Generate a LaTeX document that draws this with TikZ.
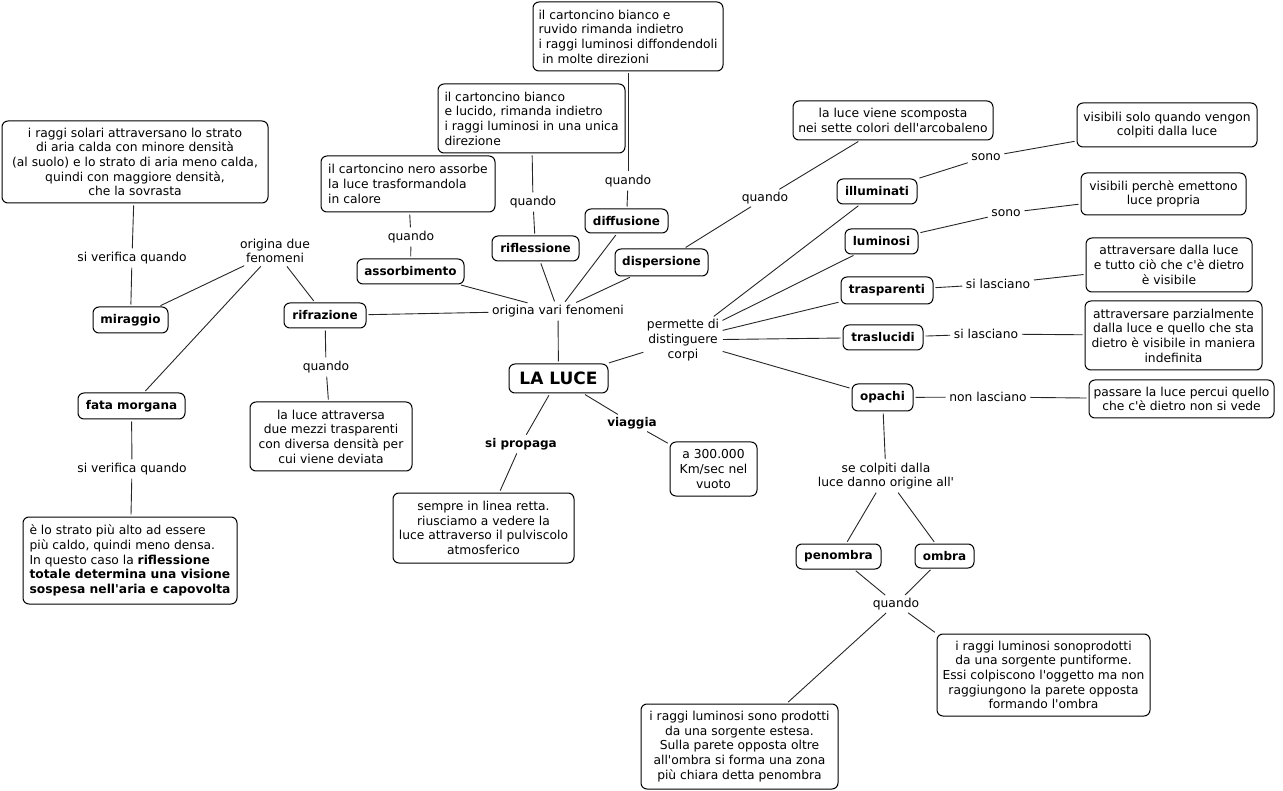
\documentclass[tikz,border=0pt]{standalone}
\usepackage{fontspec}
\setmainfont{DejaVu Sans}
\newcommand\apo{\textquotesingle}
\newcommand\RB[7][]{\node[box,#1,minimum width={(#5-#3)*1pt},minimum height={(#6-#4)*1pt}] (#2) at ({(#3+#5)/2},{(#4+#6)/2}) {#7};}
\begin{document}
\begin{tikzpicture}[x=1pt,y=-1pt,
  font=\fontsize{12.3}{14.7}\selectfont,
  box/.style={draw=black, line width=1pt, rounded corners=6pt, fill=white, align=center, inner xsep=2pt, inner ysep=2pt},
  bnode/.style={font=\fontsize{12}{14.5}\selectfont\bfseries},
  bigbf/.style={font=\fontsize{17}{20}\selectfont\bfseries},
  lab/.style={inner sep=1.5pt, align=center},
  con/.style={draw=black!85, line width=0.9pt, shorten <=2pt, shorten >=2pt}]
\useasboundingbox (0,0) rectangle (1283,791);
% boxes
\RB{solari}{2}{121}{268}{203}{i raggi solari attraversano lo strato\\di aria calda con minore densità\\(al suolo) e lo strato di aria meno calda,\\quindi con maggiore densità,\\che la sovrasta}
\RB[bnode]{miraggio}{93}{307}{168}{333}{miraggio}
\RB[bnode]{rifrazione}{284}{303}{366}{328}{rifrazione}
\RB[bnode]{fata}{78}{393}{185}{419}{fata morgana}
\RB[align=left]{fatatxt}{23}{517}{237}{604}{è lo strato più alto ad essere\\più caldo, quindi meno densa.\\In questo caso la \textbf{riflessione}\\\textbf{totale determina una visione}\\\textbf{sospesa nell\apo aria e capovolta}}
\RB{rifrtxt}{250}{402}{412}{471}{la luce attraversa\\due mezzi trasparenti\\con diversa densità per\\cui viene deviata}
\RB[align=left]{nero}{321}{156}{495}{212}{il cartoncino nero assorbe\\la luce trasformandola\\in calore}
\RB[align=left]{lucido}{438}{84}{625}{153}{il cartoncino bianco\\e lucido, rimanda indietro\\i raggi luminosi in una unica\\direzione}
\RB[align=left]{ruvido}{533}{2}{723}{71}{il cartoncino bianco e\\ruvido rimanda indietro\\i raggi luminosi diffondendoli\\\ in molte direzioni}
\RB[bnode]{assorb}{357}{259}{464}{284}{assorbimento}
\RB[bnode]{rifl}{492}{236}{579}{261}{riflessione}
\RB[bnode]{diff}{585}{209}{668}{233}{diffusione}
\RB[bnode]{disp}{615}{249}{708}{276}{dispersione}
\RB{scomp}{793}{101}{993}{140}{la luce viene scomposta\\nei sette colori dell\apo arcobaleno}
\RB[bigbf]{luce}{509}{364}{608}{393}{LA LUCE}
\RB{vel}{670}{442}{757}{496}{a 300.000\\Km/sec nel\\vuoto}
\RB{retta}{393}{493}{574}{563}{sempre in linea retta.\\riusciamo a vedere la\\luce attraverso il pulviscolo\\atmosferico}
\RB[bnode]{illum}{837}{179}{917}{204}{illuminati}
\RB[bnode]{lumin}{845}{229}{918}{254}{luminosi}
\RB[bnode]{trasp}{841}{277}{933}{304}{trasparenti}
\RB[bnode]{trasl}{843}{325}{923}{350}{traslucidi}
\RB[bnode]{opachi}{852}{384}{913}{411}{opachi}
\RB{vsolo}{1077}{103}{1257}{147}{visibili solo quando vengon\\colpiti dalla luce}
\RB{vperche}{1081}{173}{1246}{215}{visibili perchè emettono\\luce propria}
\RB{attr}{1086}{238}{1252}{292}{attraversare dalla luce\\e tutto ciò che c\apo è dietro\\è visibile}
\RB{parz}{1085}{301}{1262}{370}{attraversare parzialmente\\dalla luce e quello che sta\\dietro è visibile in maniera\\indefinita}
\RB{pass}{1089}{380}{1274}{418}{passare la luce percui quello\\che c\apo è dietro non si vede}
\RB[bnode]{penombra}{796}{544}{881}{569}{penombra}
\RB[bnode]{ombra}{915}{544}{974}{568}{ombra}
\RB{puntif}{937}{634}{1150}{716}{i raggi luminosi sonoprodotti\\da una sorgente puntiforme.\\Essi colpiscono l\apo oggetto ma non\\raggiungono la parete opposta\\formando l\apo ombra}
\RB{estesa}{641}{704}{838}{789}{i raggi luminosi sono prodotti\\da una sorgente estesa.\\Sulla parete opposta oltre\\all\apo ombra si forma una zona\\più chiara detta penombra}
% linking phrases
\node[lab] (sv1) at (132,258) {si verifica quando};
\node[lab] (odf) at (275,251) {origina due\\fenomeni};
\node[lab] (qrifr) at (326,367) {quando};
\node[lab] (sv2) at (132,469) {si verifica quando};
\node[lab] (qass) at (411,237) {quando};
\node[lab] (qrifl) at (533,202) {quando};
\node[lab] (qdiff) at (628,181) {quando};
\node[lab] (qdisp) at (765,198) {quando};
\node[lab] (ovf) at (558,311) {origina vari fenomeni};
\node[lab] (perm) at (683,340) {permette di\\distinguere\\corpi};
\node[lab] (sono1) at (986,157) {sono};
\node[lab] (sono2) at (1006,213) {sono};
\node[lab] (sl1) at (998,284) {si lasciano};
\node[lab] (sl2) at (986,334) {si lasciano};
\node[lab] (nl) at (988,397) {non lasciano};
\node[lab,bnode] (sp) at (521,444) {si propaga};
\node[lab,bnode] (vg) at (632,423) {viaggia};
\node[lab] (sc) at (886,476) {se colpiti dalla\\luce danno origine all\apo};
\node[lab] (qomb) at (896,604) {quando};
% connectors
\draw[con] (solari) -- (sv1);
\draw[con] (sv1) -- (miraggio);
\draw[con] (odf) -- (miraggio);
\draw[con] (odf) -- (rifrazione);
\draw[con] (odf) -- (fata);
\draw[con] (fata) -- (sv2);
\draw[con] (sv2) -- (fatatxt);
\draw[con] (rifrazione) -- (qrifr);
\draw[con] (qrifr) -- (rifrtxt);
\draw[con] (rifrazione) -- (ovf);
\draw[con] (assorb) -- (ovf);
\draw[con] (rifl) -- (ovf);
\draw[con] (diff) -- (ovf);
\draw[con] (disp) -- (ovf);
\draw[con] (ovf) -- (luce);
\draw[con] (assorb) -- (qass);
\draw[con] (qass) -- (nero);
\draw[con] (rifl) -- (qrifl);
\draw[con] (qrifl) -- (lucido);
\draw[con] (diff) -- (qdiff);
\draw[con] (qdiff) -- (ruvido);
\draw[con] (disp) -- (qdisp);
\draw[con] (qdisp) -- (scomp);
\draw[con] (luce) -- (perm);
\draw[con] (perm) -- (illum);
\draw[con] (perm) -- (lumin);
\draw[con] (perm) -- (trasp);
\draw[con] (perm) -- (trasl);
\draw[con] (perm) -- (opachi);
\draw[con] (illum) -- (sono1);
\draw[con] (sono1) -- (vsolo);
\draw[con] (lumin) -- (sono2);
\draw[con] (sono2) -- (vperche);
\draw[con] (trasp) -- (sl1);
\draw[con] (sl1) -- (attr);
\draw[con] (trasl) -- (sl2);
\draw[con] (sl2) -- (parz);
\draw[con] (opachi) -- (nl);
\draw[con] (nl) -- (pass);
\draw[con] (opachi) -- (sc);
\draw[con] (sc) -- (penombra);
\draw[con] (sc) -- (ombra);
\draw[con] (penombra) -- (qomb);
\draw[con] (ombra) -- (qomb);
\draw[con] (qomb) -- (puntif.north west);
\draw[con] (qomb) -- (estesa);
\draw[con] (luce) -- (sp);
\draw[con] (sp) -- (retta);
\draw[con] (luce) -- (vg);
\draw[con] (vg) -- (vel);
\end{tikzpicture}
\end{document}
